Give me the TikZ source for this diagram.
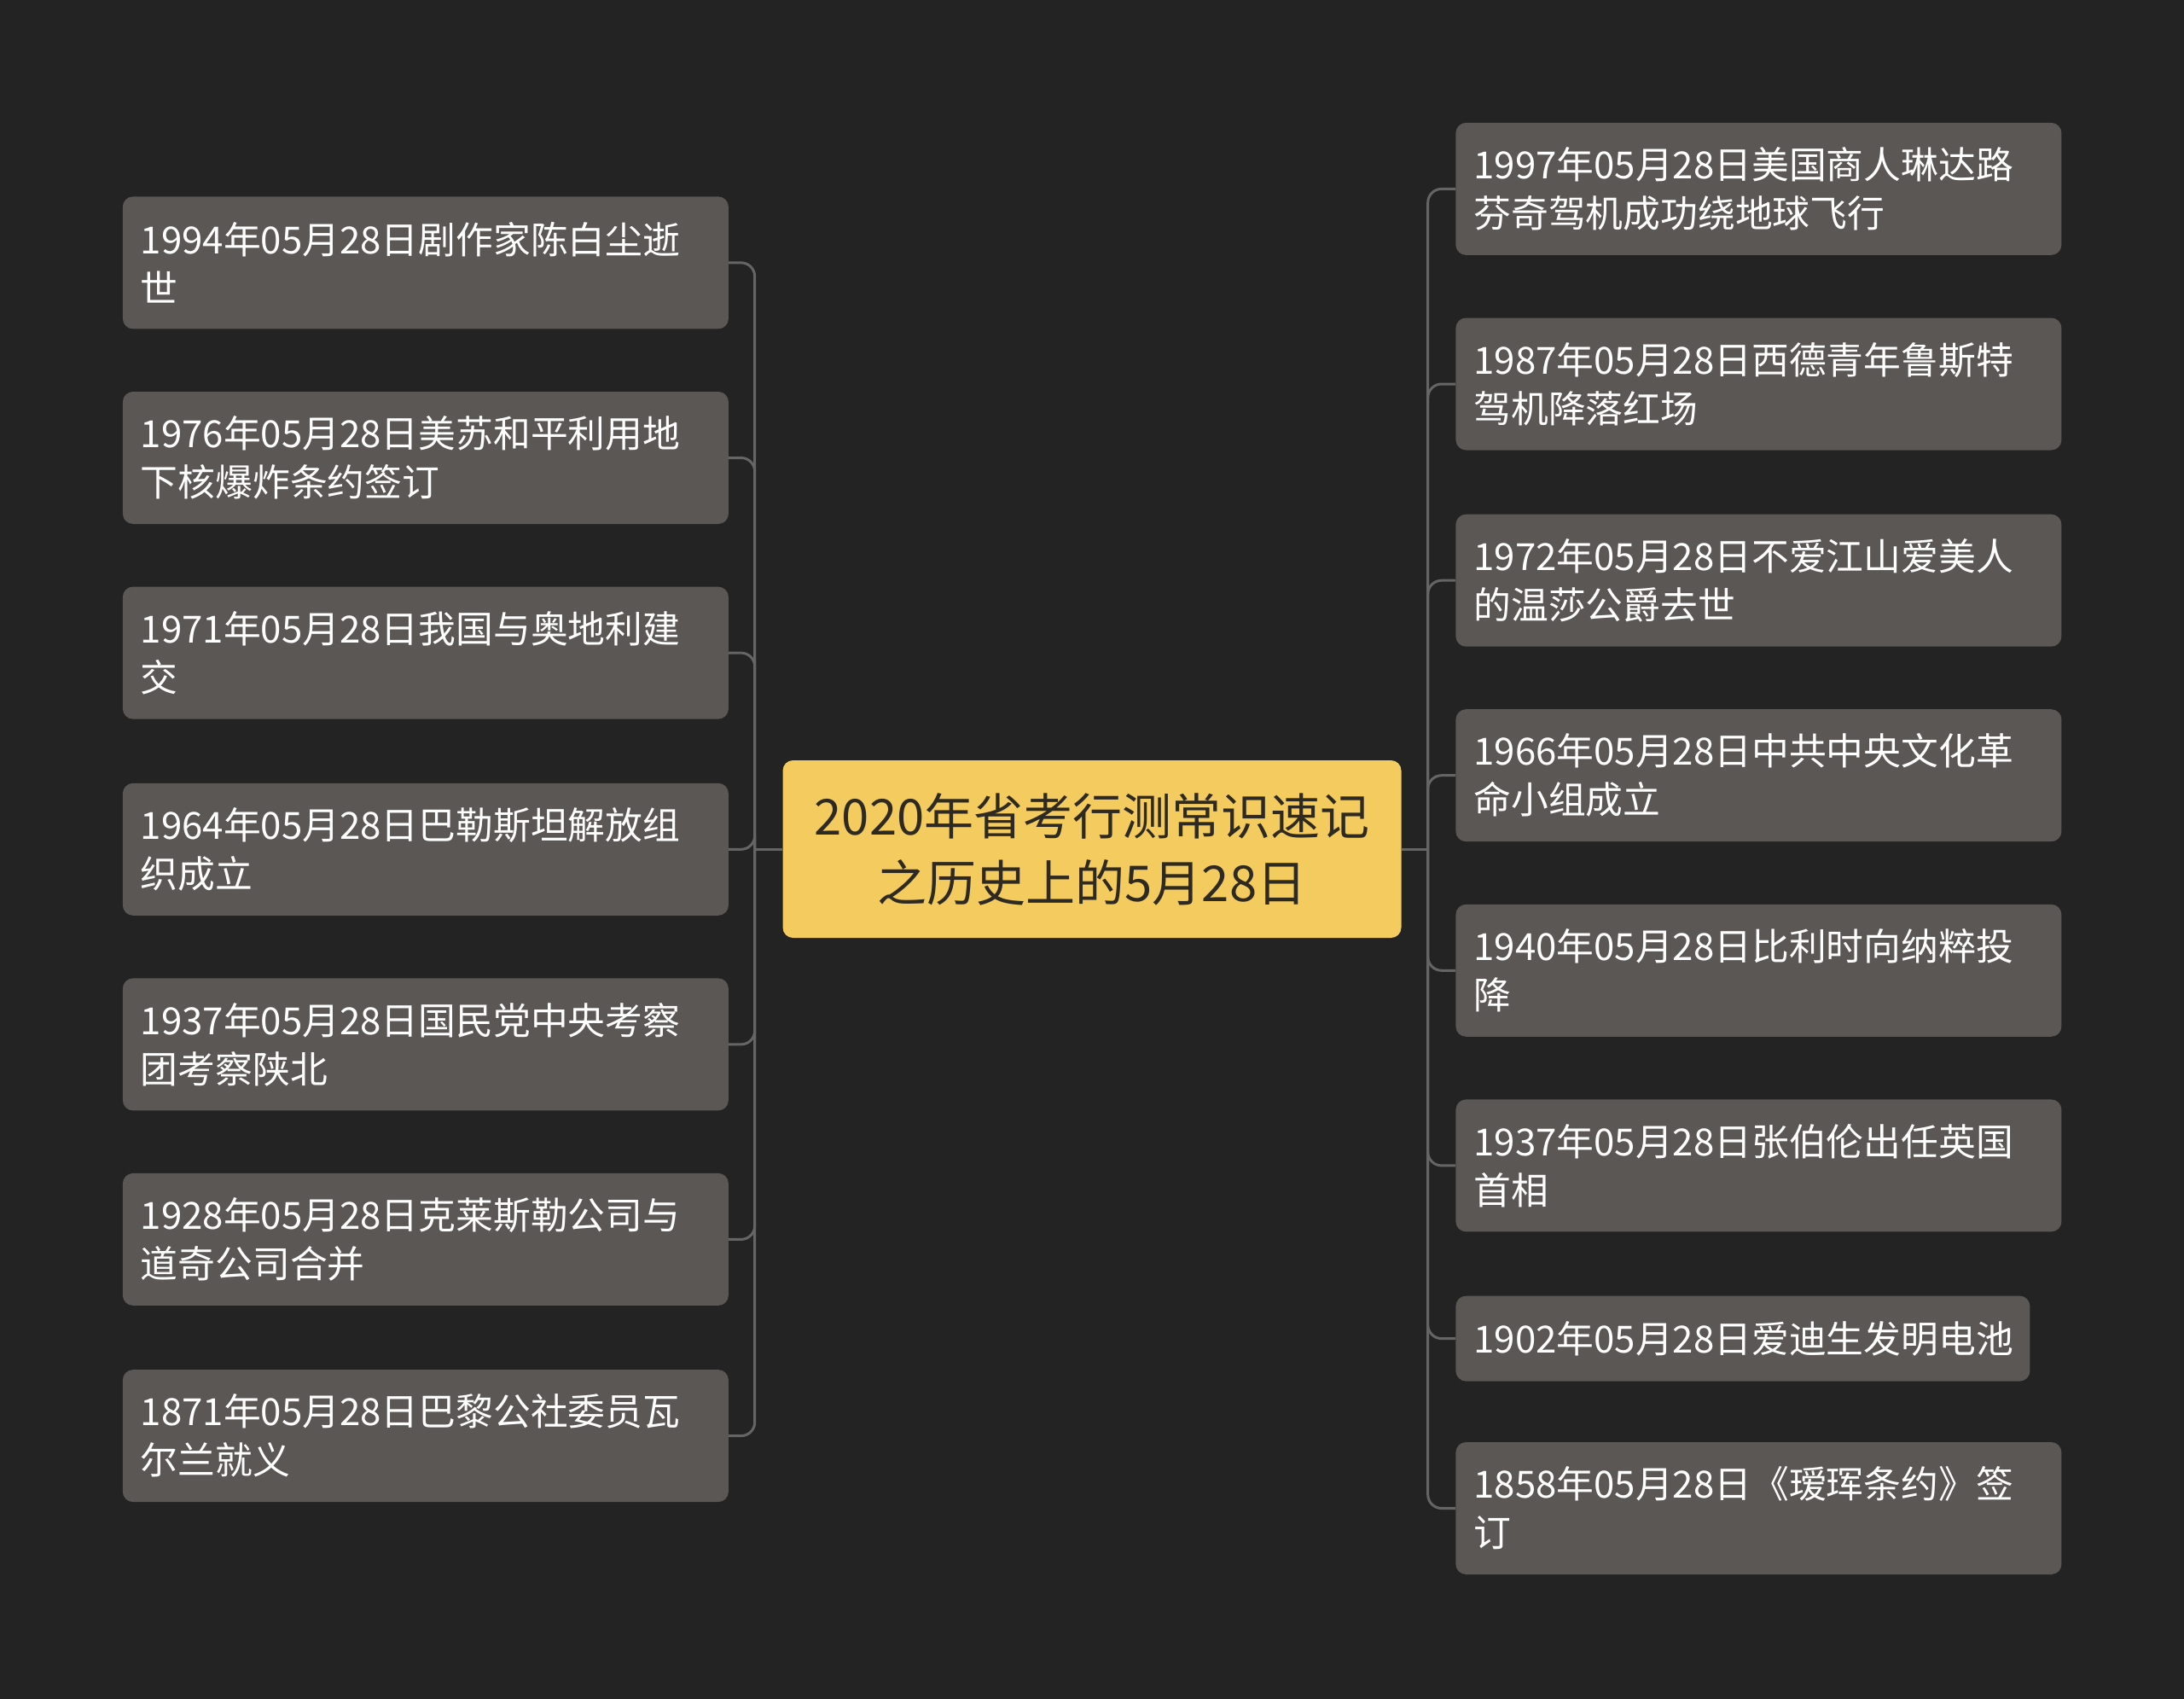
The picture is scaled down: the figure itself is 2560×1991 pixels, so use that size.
\documentclass[tikz,border=0pt]{standalone}
\usepackage{fontspec}
\setmainfont{Noto Sans CJK SC}
\usetikzlibrary{positioning}
\definecolor{bgdark}{HTML}{232323}
\definecolor{leaf}{HTML}{5A5754}
\definecolor{wire}{HTML}{656565}
\definecolor{rootfill}{HTML}{F4CB5E}
\definecolor{rootink}{HTML}{2E2A22}

\begin{document}
\begin{tikzpicture}[x=1pt,y=-1pt,
  leafbox/.style={fill=leaf,rounded corners=12pt,anchor=north west,text=white,font=\fontsize{43.8}{57}\selectfont,align=left,text width=668pt,minimum height=155pt,inner xsep=21pt,inner ysep=0pt},
  rootbox/.style={fill=rootfill,rounded corners=12pt,text=rootink,font=\fontsize{58}{78}\selectfont,align=center,minimum width=725pt,minimum height=208pt},
  conn/.style={draw=wire,line width=3pt,rounded corners=16pt}]
\fill[bgdark] (0,0) rectangle (2560,1991);
\useasboundingbox (0,0) rectangle (2560,1991);
\node[rootbox] (root) at (1280,995) {2020年省考行测常识速记\\之历史上的5月28日};
\coordinate (lbus) at ([xshift=-32.6pt]root.west);
\coordinate (rbus) at ([xshift=31pt]root.east);
\draw[conn] (root.west) -- (lbus);
\draw[conn] (root.east) -- (rbus);
\foreach \y/\n/\t in {230.2/L1/{1994年05月28日剧作家陈白尘逝\\世},
  458.8/L2/{1976年05月28日美苏和平利用地\\下核爆炸条约签订},
  687.4/L3/{1971年05月28日我国与奥地利建\\交},
  917.6/L4/{1964年05月28日巴勒斯坦解放组\\织成立},
  1146.2/L5/{1937年05月28日国民党中央考察\\团考察陕北},
  1374.7/L6/{1928年05月28日克莱斯勒公司与\\道奇公司合并},
  1604.9/L7/{1871年05月28日巴黎公社委员瓦\\尔兰就义}}{
  \node[leafbox] (\n) at (143.7,\y) {\t};
  \draw[conn] (lbus) |- (\n.east);}
\foreach \y/\n/\t in {143.7/R1/{1997年05月28日美国商人琳达路\\芬奇驾机成功绕地球飞行},
  372.3/R2/{1987年05月28日西德青年鲁斯特\\驾机降落红场},
  602.5/R3/{1972年05月28日不爱江山爱美人\\的温莎公爵去世},
  831.0/R4/{1966年05月28日中共中央文化革\\命小组成立},
  1059.6/R5/{1940年05月28日比利时向纳粹投\\降},
  1288.2/R6/{1937年05月28日张伯伦出任英国\\首相},
  1689.8/R8/{1858年05月28日《瑷珲条约》签\\订}}{
  \node[leafbox] (\n) at (1706.2,\y) {\t};
  \draw[conn] (rbus) |- (\n.west);}
\node[leafbox,text width=631pt,minimum height=100pt] (R7) at (1706.2,1518.4) {1902年05月28日爱迪生发明电池};
\draw[conn] (rbus) |- (R7.west);
\end{tikzpicture}
\end{document}
